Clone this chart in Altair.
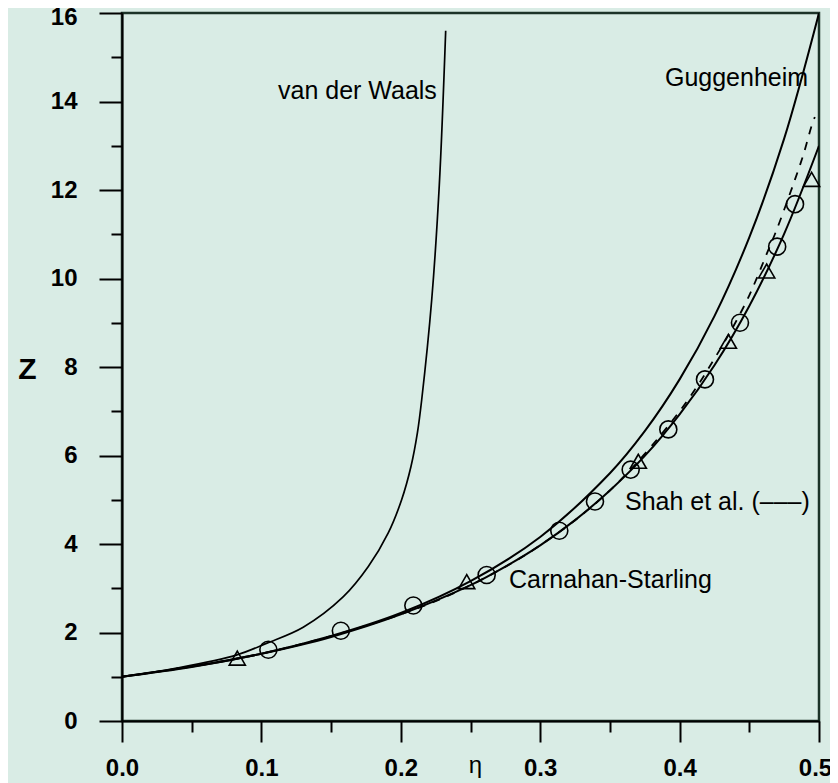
import altair as alt
import pandas as pd

# ---- values ----
vdw_eta = [0.0, 0.04, 0.082, 0.104, 0.13, 0.1588, 0.1767, 0.191, 0.2006, 0.2073, 0.2119, 0.215, 0.2222, 0.2276, 0.2322]
vdw_z = [1.0, 1.2, 1.49, 1.76, 2.12, 2.81, 3.49, 4.25, 5.0, 5.75, 6.51, 7.26, 9.53, 12.1, 15.6]

gug_eta = [0.0, 0.05, 0.1, 0.15, 0.2, 0.25, 0.3, 0.35, 0.375, 0.4, 0.425, 0.45, 0.475, 0.5]
gug_z = [1.0, 1.23, 1.52, 1.92, 2.44, 3.16, 4.16, 5.6, 6.55, 7.72, 9.15, 10.93, 13.16, 16.0]

cs_eta = [0.0, 0.05, 0.1, 0.15, 0.2, 0.25, 0.275, 0.3, 0.325, 0.35, 0.375, 0.4, 0.425, 0.45, 0.475, 0.5]
cs_z = [1.0, 1.22, 1.52, 1.90, 2.41, 3.07, 3.49, 3.97, 4.54, 5.21, 5.99, 6.93, 8.04, 9.38, 11.01, 13.0]

shah_eta = [0.0, 0.1, 0.2, 0.25, 0.3, 0.35, 0.4, 0.43, 0.4476, 0.455, 0.4624, 0.4696, 0.4828, 0.4888, 0.4947, 0.497]
shah_z = [1.0, 1.52, 2.41, 3.07, 3.97, 5.21, 7.0, 8.45, 9.46, 9.98, 10.55, 11.1, 12.24, 12.8, 13.45, 13.65]

circ_eta = [0.105, 0.157, 0.209, 0.2616, 0.3137, 0.3393, 0.3649, 0.3919, 0.4182, 0.4433, 0.470, 0.4828]
circ_z = [1.61, 2.04, 2.61, 3.30, 4.30, 4.96, 5.68, 6.59, 7.72, 9.0, 10.72, 11.68]

tri_eta = [0.0827, 0.2473, 0.3704, 0.435, 0.4625, 0.4947]
tri_z = [1.42, 3.15, 5.87, 8.58, 10.17, 12.24]

label_text = ["van der Waals", "Guggenheim", "Shah et al. (–––)", "Carnahan-Starling"]
label_eta = [0.1119, 0.3895, 0.3608, 0.2776]
label_z = [14.23, 14.53, 4.96, 3.19]

x_ticks = [0.0, 0.05, 0.1, 0.15, 0.2, 0.25, 0.3, 0.35, 0.4, 0.45, 0.5]
y_ticks = list(range(0, 17))

# ---- tables ----
def curve(name, xs, ys):
    return pd.DataFrame({"eta": xs, "Z": ys, "curve": name})

vdw = curve("vdw", vdw_eta, vdw_z)
gug = curve("gug", gug_eta, gug_z)
cs = curve("cs", cs_eta, cs_z)
shah = curve("shah", shah_eta, shah_z)
circ = pd.DataFrame({"eta": circ_eta, "Z": circ_z})
tri = pd.DataFrame({"eta": tri_eta, "Z": tri_z})
labels = pd.DataFrame({"eta": label_eta, "Z": label_z, "text": label_text})

FONT = "Liberation Sans"
NARROW = "'Liberation Sans Narrow', 'Liberation Sans', Arial, sans-serif"

xscale = alt.Scale(domain=[0, 0.5], nice=False, zero=False)
yscale = alt.Scale(domain=[0, 16], nice=False)

xaxis = alt.Axis(
    values=x_ticks,
    labelExpr="(round(datum.value*100) % 10 == 0) ? format(datum.value, '.1f') : ''",
    tickSize={"condition": {"test": "round(datum.value*100) % 10 == 0", "value": 21}, "value": 11},
    labelOffset={"condition": {"test": "datum.value >= 0.5", "value": -4}, "value": 0},
    tickColor="black", tickWidth=2,
    domainColor="black", domainWidth=2,
    labelFont=NARROW, labelFontSize=24, labelFontWeight="bold", labelColor="black",
    labelPadding=14, labelFlush=False,
    grid=False,
    title="η", titleFont=FONT, titleFontSize=24, titleFontWeight="normal", titleColor="black",
    titleX=353, titleY=44, titleAnchor="middle", titleBaseline="middle",
)
yaxis = alt.Axis(
    values=y_ticks,
    labelExpr="(datum.value % 2 == 0) ? format(datum.value, 'd') : ''",
    tickSize={"condition": {"test": "datum.value % 2 == 0", "value": 23}, "value": 11},
    labelOffset={"condition": {"test": "datum.value == 16", "value": 4}, "value": 0},
    tickColor="black", tickWidth=2,
    domainColor="black", domainWidth=2,
    labelFont=NARROW, labelFontSize=24, labelFontWeight="bold", labelColor="black",
    labelPadding=22, labelFlush=False,
    grid=False,
    title="Z", titleFont=FONT, titleFontSize=30, titleFontWeight="bold", titleColor="black",
    titleAngle=0, titleX=-95, titleY=356, titleAlign="center", titleBaseline="middle",
)

X = alt.X("eta:Q", scale=xscale, axis=xaxis)
Y = alt.Y("Z:Q", scale=yscale, axis=yaxis)

base_line = dict(color="black", interpolate="catmull-rom", clip=True)

l_vdw = alt.Chart(vdw).mark_line(strokeWidth=1.7, **base_line).encode(x=X, y=Y)
l_gug = alt.Chart(gug).mark_line(strokeWidth=2, **base_line).encode(x=X, y=Y)
l_cs = alt.Chart(cs).mark_line(strokeWidth=2, **base_line).encode(x=X, y=Y)
l_shah = alt.Chart(shah).mark_line(strokeWidth=1.8, strokeDash=[8, 8], **base_line).encode(x=X, y=Y)

m_circ = alt.Chart(circ).mark_point(shape="circle", size=290, filled=False, color="black",
                                    strokeWidth=1.6, opacity=1).encode(x=X, y=Y)
m_tri = alt.Chart(tri).mark_point(shape="triangle-up", size=260, filled=False, color="black",
                                  strokeWidth=1.6, opacity=1).encode(x=X, y=Y)

t_lab = alt.Chart(labels).mark_text(align="left", baseline="middle", font=FONT, fontSize=25,
                                    color="black").encode(x=X, y=Y, text="text:N")

chart = alt.layer(l_vdw, l_gug, l_cs, l_shah, m_circ, m_tri, t_lab).properties(
    width=697, height=708,
    padding={"left": 114, "top": 5, "right": 11, "bottom": 62},
    autosize=alt.AutoSizeParams(type="none"),
    background="#d9ece5",
).configure_view(
    stroke="#1c3328", strokeWidth=2.5, fill=None
)

chart.save("out.html", embed_options={"renderer": "svg", "actions": False})
